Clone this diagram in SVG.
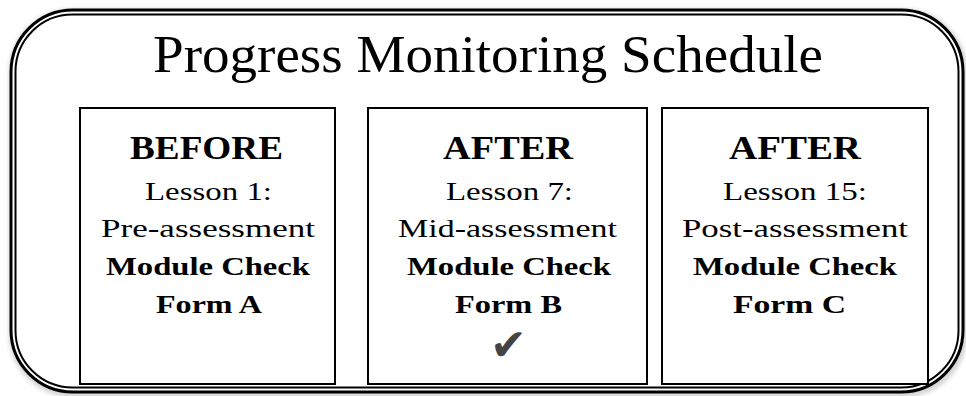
<svg xmlns="http://www.w3.org/2000/svg" width="966" height="396" viewBox="0 0 966 396">
<defs>
<filter id="sh" x="-5%" y="-5%" width="110%" height="115%">
<feGaussianBlur stdDeviation="2.5"/>
</filter>
<style>
.t{font-family:"Liberation Serif","Times New Roman",serif;fill:#000;text-anchor:middle}
.b{font-weight:bold}
.box{fill:#fff;stroke:#000;stroke-width:2}
</style>
</defs>
<rect width="966" height="396" fill="#fff"/>
<g id="frame">
<rect x="12" y="12" width="952" height="382" rx="60" fill="none" stroke="#bbb" stroke-width="4" filter="url(#sh)"/>
<rect x="11" y="10" width="952" height="382" rx="62" fill="#fff" stroke="#000" stroke-width="3"/>
<rect x="15.5" y="14.5" width="943" height="373" rx="57" fill="none" stroke="#000" stroke-width="2"/>
<text class="t" x="488" y="72" font-size="53" textLength="670" lengthAdjust="spacingAndGlyphs">Progress Monitoring Schedule</text>
</g>
<g id="before">
<rect class="box" x="80" y="108" width="255" height="276"/>
<text class="t b" x="206.5" y="159" font-size="33" textLength="153" lengthAdjust="spacingAndGlyphs">BEFORE</text>
<text class="t" x="208.5" y="200" font-size="26" textLength="127" lengthAdjust="spacingAndGlyphs">Lesson 1:</text>
<text class="t" x="208" y="237" font-size="26" textLength="214" lengthAdjust="spacingAndGlyphs">Pre-assessment</text>
<text class="t b" x="208" y="275" font-size="26" textLength="204" lengthAdjust="spacingAndGlyphs">Module Check</text>
<text class="t b" x="209" y="312.5" font-size="26" textLength="106" lengthAdjust="spacingAndGlyphs">Form A</text>
</g>
<g id="after7">
<rect class="box" x="368" y="108" width="279" height="276"/>
<text class="t b" x="508" y="159" font-size="33" textLength="130" lengthAdjust="spacingAndGlyphs">AFTER</text>
<text class="t" x="509.5" y="200" font-size="26" textLength="127" lengthAdjust="spacingAndGlyphs">Lesson 7:</text>
<text class="t" x="507.5" y="237" font-size="26" textLength="219" lengthAdjust="spacingAndGlyphs">Mid-assessment</text>
<text class="t b" x="509" y="275" font-size="26" textLength="204" lengthAdjust="spacingAndGlyphs">Module Check</text>
<text class="t b" x="508.5" y="312.5" font-size="26" textLength="107" lengthAdjust="spacingAndGlyphs">Form B</text>
<text x="508.5" y="360" font-family="DejaVu Sans,sans-serif" font-size="44" fill="#444" text-anchor="middle">✔</text>
</g>
<g id="after15">
<rect class="box" x="662" y="108" width="266" height="276"/>
<text class="t b" x="795" y="159" font-size="33" textLength="132" lengthAdjust="spacingAndGlyphs">AFTER</text>
<text class="t" x="795" y="200" font-size="26" textLength="144" lengthAdjust="spacingAndGlyphs">Lesson 15:</text>
<text class="t" x="795" y="237" font-size="26" textLength="226" lengthAdjust="spacingAndGlyphs">Post-assessment</text>
<text class="t b" x="795" y="275" font-size="26" textLength="204" lengthAdjust="spacingAndGlyphs">Module Check</text>
<text class="t b" x="789.5" y="312.5" font-size="26" textLength="113" lengthAdjust="spacingAndGlyphs">Form C</text>
</g>
<g id="connectors"/>
</svg>
